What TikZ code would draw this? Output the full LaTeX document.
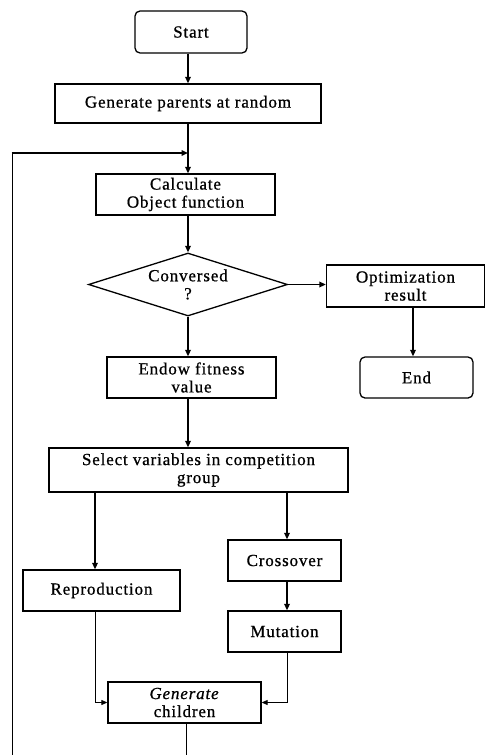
\documentclass[tikz,border=0pt]{standalone}
\usepackage{fontspec}
\setmainfont{Liberation Serif}[LetterSpace=5,FakeBold=0.8]
\usetikzlibrary{shapes.geometric,arrows.meta}
\begin{document}
\begin{tikzpicture}[x=1pt,y=-1pt,
  every node/.style={font=\fontsize{17}{18}\selectfont, align=center, inner sep=0pt},
  box/.style={draw, line width=1.3pt, rectangle},
  rbox/.style={box, rounded corners=5pt},
  dia/.style={draw, line width=1.3pt, diamond, aspect=3.16},
  arr/.style={line width=1.6pt, -{Triangle[length=6.5pt,width=5.5pt]}},
  thinline/.style={line width=0.9pt},
  thinarr/.style={line width=0.9pt, -{Triangle[length=6pt,width=5pt]}}]
\useasboundingbox (0,0) rectangle (487,755);
\fill[white] (0,0) rectangle (487,755);

\node[rbox, minimum width=112pt, minimum height=42pt] (start) at (191,32) {Start};
\node[box, minimum width=266pt, minimum height=39pt] (gen) at (188,103.5) {Generate parents at random};
\node[box, minimum width=179pt, minimum height=41pt] (calc) at (185.5,194.5) {Calculate\\Object function};
\node[dia, minimum width=199pt, minimum height=63pt] (conv) at (188,284.5) {Conversed\\?};
\node[box, minimum width=158pt, minimum height=42pt] (opt) at (405.5,286) {Optimization\\result};
\node[rbox, minimum width=113pt, minimum height=41pt] (end) at (416.5,377.5) {End};
\node[box, minimum width=169pt, minimum height=41pt] (endow) at (191.5,377.5) {Endow fitness\\value};
\node[box, minimum width=299pt, minimum height=44pt] (sel) at (198.5,470) {Select variables in competition\\group};
\node[box, minimum width=157pt, minimum height=41pt] (repro) at (101.5,590.5) {Reproduction};
\node[box, minimum width=113pt, minimum height=41pt] (cross) at (284.5,560.5) {Crossover};
\node[box, minimum width=113pt, minimum height=41pt] (mut) at (284.5,631.5) {Mutation};
\node[box, minimum width=153pt, minimum height=41pt] (genc) at (184.5,702.5) {\textit{Generate}\\children};

\coordinate (join) at (188,153);
\coordinate (bl) at (12,762);
\coordinate (tl) at (12,153);

\draw[arr] (188,0 |- start.south) -- (188,0 |- gen.north);
\draw[arr] (188,0 |- gen.south) -- (188,0 |- calc.north);
\draw[arr] (188,0 |- calc.south) -- (conv.north);
\draw[arr] (conv.east) -- (conv.east -| opt.west);
\draw[arr] (413,0 |- opt.south) -- (413,0 |- end.north);
\draw[arr] (conv.south) -- (conv.south |- endow.north);
\draw[arr] (188,0 |- endow.south) -- (188,0 |- sel.north);
\draw[arr] (95,0 |- sel.south) -- (95,0 |- repro.north);
\draw[arr] (287,0 |- sel.south) -- (287,0 |- cross.north);
\draw[arr] (287,0 |- cross.south) -- (287,0 |- mut.north);
\draw[thinarr] (95,0 |- repro.south) |- (genc.west);
\draw[thinarr] (287,0 |- mut.south) |- (genc.east);
\draw[thinline] (186,0 |- genc.south) -- (186,762) -- (bl) -- (tl);
\draw[arr, shorten <=-0.45pt] (tl) -- (join);
\end{tikzpicture}
\end{document}
